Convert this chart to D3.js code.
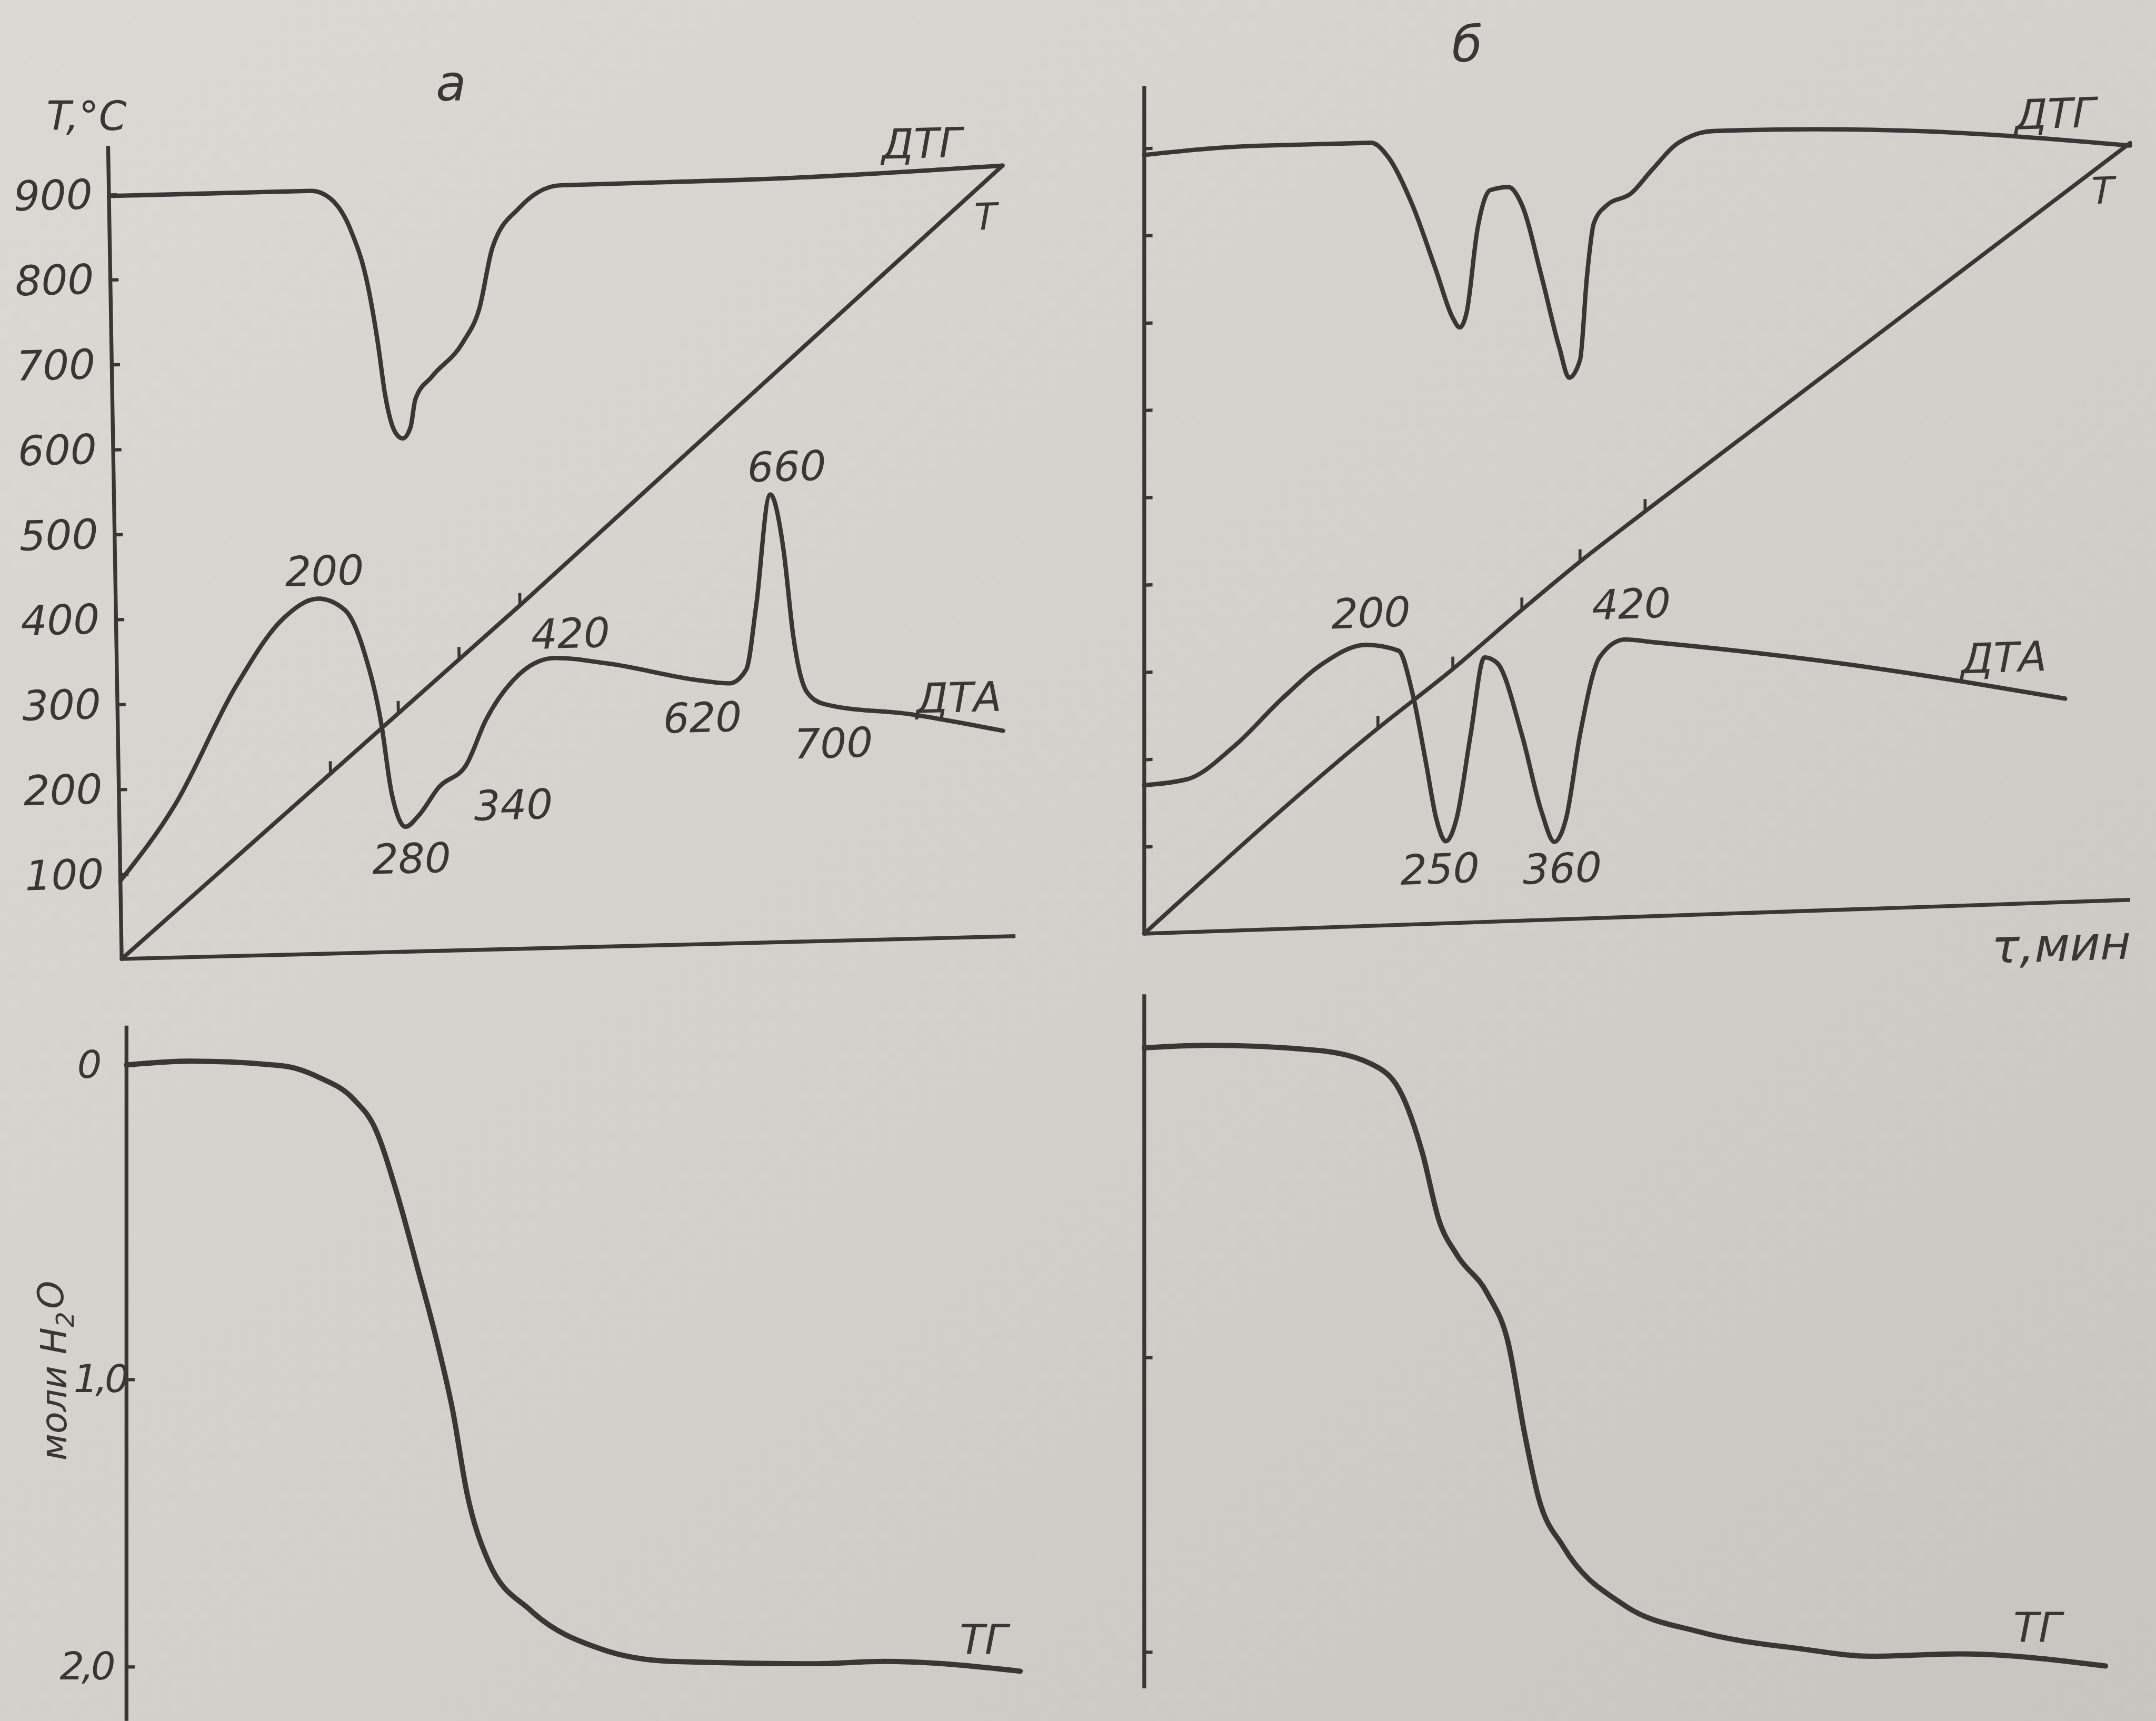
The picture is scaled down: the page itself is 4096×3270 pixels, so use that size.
<!DOCTYPE html>
<html><head><meta charset="utf-8">
<script src="https://cdn.jsdelivr.net/npm/d3@7"></script>
<style>html,body{margin:0;padding:0;background:#d6d3ce;overflow:hidden}</style>
</head><body>
<svg id="c" width="4096" height="3270"></svg>
<script>
// ================= DATA =================
// Temperature axis ticks (°C) and TG axis ticks (moles H2O)
const tempTicks = [100, 200, 300, 400, 500, 600, 700, 800, 900];
const molTicks = [0, 1, 2];
const molTickLabels = ["0", "1,0", "2,0"];

// ---- panel а (top): time (arb. units 0..100) vs value (°C scale) ----
const dtgA_t = [0, 22.6, 24.8, 27.0, 28.8, 29.8, 30.5, 31.6, 32.4, 33.3, 33.9, 35.8, 39.3, 41.2, 42.8, 45.9, 50.5, 70.9, 100];
const dtgA_v = [898, 898, 888, 850, 784, 717, 657, 611, 604, 617, 650, 676, 715, 754, 826, 872, 897, 898, 907];

const dtaA_t = [0, 6.3, 13.3, 18.7, 22.6, 25.6, 27.7, 29.5, 30.5, 32.0, 33.5, 35.8, 38.9, 41.2, 44.3, 48.9, 54.9, 65.4, 68.5, 70.4, 71.6, 73.4, 74.8, 75.7, 77.1, 79.0, 88.8, 99.0];
const dtaA_v = [92, 180.6, 317.6, 395.6, 418, 404, 353.6, 267, 187, 147, 160, 192.6, 218, 270.6, 316, 341, 333, 310, 306, 322, 395, 527, 460, 361, 294, 279, 264, 242];

const tempA_t = [0, 45.2, 100];
const tempA_v = [0, 404, 907];
const tempA_marks = [23.7, 31.4, 38.3, 45.2];

// ---- panel а (bottom): TG, moles H2O lost ----
const tgA_t = [0, 7.2, 17.5, 21.5, 25.4, 27.8, 30.2, 32.6, 34.9, 36.5, 38.1, 40.5, 45.2, 53.1, 61.0, 76.9, 84.8, 100];
const tgA_v = [0, -0.012, 0.003, 0.039, 0.109, 0.201, 0.403, 0.651, 0.899, 1.110, 1.398, 1.635, 1.805, 1.940, 1.983, 1.991, 1.983, 2.017];

// ---- panel б (top) ----
const dtgB_t = [0, 11.2, 23.0, 24.8, 27.2, 29.6, 31.3, 32.0, 32.7, 33.8, 35.1, 36.9, 38.3, 40.3, 42.1, 43.1, 44.2, 44.9, 45.6, 46.9, 49.4, 51.5, 54.2, 57.7, 77.1, 100];
const dtgB_v = [892, 898, 897, 879, 824, 748, 693, 682, 699, 794, 838, 841, 820, 737, 655, 620, 640, 735, 796, 816, 829, 855, 885, 897, 890, 864];

const dtaB_t = [0, 4.3, 9.1, 14.0, 18.2, 22.3, 25.8, 27.2, 28.6, 29.6, 30.6, 31.7, 33.1, 34.5, 35.8, 38.3, 40.3, 41.6, 42.8, 44.2, 46.2, 48.7, 51.5, 70.2, 93.4];
const dtaB_v = [170, 175, 211, 264, 303, 322, 314, 265, 183, 121, 94, 120.5, 215, 303, 296, 213, 124, 89, 116, 211, 299, 318, 314, 283, 233];

const tempB_t = [0, 23.7, 31.3, 38.3, 44.2, 50.8, 100];
const tempB_v = [0, 226, 291, 356, 409, 464, 867];
const tempB_marks = [23.7, 31.3, 38.3, 44.2, 50.8];

// ---- panel б (bottom): TG ----
const tgB_t = [0, 6.4, 17.5, 23.7, 26.1, 28.2, 29.9, 31.7, 34.8, 36.9, 38.6, 40.0, 42.5, 48.7, 56.3, 66.7, 73.7, 82.7, 97.5];
const tgB_v = [0.005, -0.003, 0.013, 0.068, 0.154, 0.342, 0.561, 0.671, 0.796, 0.953, 1.264, 1.479, 1.644, 1.843, 1.933, 1.991, 2.016, 2.008, 2.049];

// ---- annotations: [text, time, value] ----
const notesA = [["200", 23.4, 451], ["280", 32.6, 110], ["340", 44.1, 170], ["420", 50.8, 370], ["620", 65.4, 267], ["660", 75.3, 560], ["700", 80.0, 233], ["ДТА", 94.1, 283], ["ДТГ", 91.0, 936], ["T", 98.0, 848]];
const notesB = [["200", 23.0, 359], ["420", 49.4, 359], ["250", 30.0, 63], ["360", 42.4, 59], ["ДТА", 87.2, 283], ["ДТГ", 92.4, 904], ["T", 97.2, 814]];
const notesTG_A = [["ТГ", 95.9, 1.906]];
const notesTG_B = [["ТГ", 90.6, 1.917]];

// ================= DRAWING =================
const k = 4096 / 1568;
const INK = "#383736";
const FONT = "'DejaVu Sans', sans-serif";
const svg = d3.select("#c");
const defs = svg.append("defs");
const grad = defs.append("linearGradient").attr("id", "paper")
  .attr("x1", "0").attr("y1", "0").attr("x2", "1").attr("y2", "1");
grad.append("stop").attr("offset", "0").attr("stop-color", "#dcd9d4");
grad.append("stop").attr("offset", "0.55").attr("stop-color", "#d3d0cb");
grad.append("stop").attr("offset", "1").attr("stop-color", "#c8c5c0");
svg.append("rect").attr("width", 4096).attr("height", 3270).attr("fill", "url(#paper)");

const root = svg.append("g").attr("transform", `scale(${k})`);
const zip = (a, b) => a.map((v, i) => [v, b[i]]);
const mkLine = (x, y) => d3.line().x(d => x(d[0])).y(d => y(d[1])).curve(d3.curveMonotoneX);

function curve(g, x, y, ts, vs, w) {
  g.append("path").datum(zip(ts, vs)).attr("d", mkLine(x, y))
    .attr("fill", "none").attr("stroke", INK).attr("stroke-width", w || 3.2)
    .attr("stroke-linejoin", "round").attr("stroke-linecap", "round");
}
function notes(g, x, y, arr, size) {
  g.selectAll(null).data(arr).enter().append("text")
    .attr("x", d => x(d[1])).attr("y", d => y(d[2])).attr("dy", "0.36em")
    .attr("text-anchor", "middle").attr("font-family", FONT).attr("font-style", "italic")
    .attr("font-size", d => d[0] === "T" ? 27 : (size || 30)).attr("fill", INK)
    .text(d => d[0]);
}
function tempMarks(g, x, y, ts, vs, marks) {
  const interp = d3.scaleLinear().domain(ts).range(vs);
  g.selectAll(null).data(marks).enter().append("line")
    .attr("x1", d => x(d)).attr("x2", d => x(d))
    .attr("y1", d => y(interp(d))).attr("y2", d => y(interp(d)) - 9)
    .attr("stroke", INK).attr("stroke-width", 2.2);
}
function styleAxis(ax, showText, size) {
  ax.attr("font-family", FONT).attr("font-size", size || 30).attr("font-style", "italic");
  ax.select(".domain").remove();
  ax.selectAll(".tick line").attr("stroke", INK).attr("stroke-width", 2.4);
  ax.selectAll(".tick text").attr("fill", INK);
  if (!showText) ax.selectAll(".tick text").remove();
}

// ---------- panel а, top ----------
const gA = root.append("g").attr("transform", "matrix(1,-0.0255,0.0167,1,88.5,697.5)");
const xA = d3.scaleLinear().domain([0, 100]).range([0, 650]);
const yA = d3.scaleLinear().domain([0, 957]).range([0, -591.4]);
gA.append("line").attr("x1", xA(0)).attr("x2", xA(0)).attr("y1", yA(0)).attr("y2", yA(957))
  .attr("stroke", INK).attr("stroke-width", 2.8);
gA.append("line").attr("x1", xA(0)).attr("x2", xA(100)).attr("y1", yA(0)).attr("y2", yA(0))
  .attr("stroke", INK).attr("stroke-width", 2.8);
const axA = gA.append("g").call(d3.axisLeft(yA).tickValues(tempTicks).tickSizeInner(-6).tickSizeOuter(0).tickPadding(12).tickFormat(d3.format("d")));
styleAxis(axA, true);
curve(gA, xA, yA, dtgA_t, dtgA_v);
curve(gA, xA, yA, dtaA_t, dtaA_v);
curve(gA, xA, yA, tempA_t, tempA_v, 3.0);
tempMarks(gA, xA, yA, tempA_t, tempA_v, tempA_marks);
notes(gA, xA, yA, notesA);

// ---------- panel а, bottom ----------
const gAb = root.append("g");
const xAb = d3.scaleLinear().domain([0, 100]).range([92, 742]);
const yAb = d3.scaleLinear().domain([0, 1, 2]).range([774.6, 1003, 1212]);
gAb.append("line").attr("x1", xAb(0)).attr("x2", xAb(0)).attr("y1", yAb(-0.125)).attr("y2", yAb(2.19))
  .attr("stroke", INK).attr("stroke-width", 2.8);
const axAb = gAb.append("g").attr("transform", `translate(${xAb(0)},0)`)
  .call(d3.axisLeft(yAb).tickValues(molTicks).tickSizeInner(-6).tickSizeOuter(0).tickPadding(10).tickFormat((d, i) => molTickLabels[i]));
styleAxis(axAb, true, 28);
const molLabelShift = [-10, 10, 0];
axAb.selectAll(".tick text").attr("dx", (d, i) => molLabelShift[i]).attr("letter-spacing", -2);
curve(gAb, xAb, yAb, tgA_t, tgA_v, 3.8);
notes(gAb, xAb, yAb, notesTG_A);
gAb.append("text").attr("transform", "translate(39,997) rotate(-90)")
  .attr("text-anchor", "middle").attr("dy", "0.36em").attr("font-family", FONT).attr("font-style", "italic")
  .attr("font-size", 26).attr("fill", INK)
  .call(t => { t.append("tspan").text("моли H"); t.append("tspan").attr("font-size", 18).attr("dy", "0.3em").text("2");
               t.append("tspan").attr("dy", "-0.3em").attr("dx", 2).text("O"); });

// ---------- panel б, top ----------
const gB = root.append("g").attr("transform", "matrix(1,-0.0343,0,1,832.2,679.1)");
const xB = d3.scaleLinear().domain([0, 100]).range([0, 717]);
const yB = d3.scaleLinear().domain([0, 971]).range([0, -616.6]);
gB.append("line").attr("x1", xB(0)).attr("x2", xB(0)).attr("y1", yB(0)).attr("y2", yB(971))
  .attr("stroke", INK).attr("stroke-width", 2.8);
gB.append("line").attr("x1", xB(0)).attr("x2", xB(100)).attr("y1", yB(0)).attr("y2", yB(0))
  .attr("stroke", INK).attr("stroke-width", 2.8);
const axB = gB.append("g").call(d3.axisLeft(yB).tickValues(tempTicks).tickSizeInner(-6).tickSizeOuter(0));
styleAxis(axB, false);
curve(gB, xB, yB, dtgB_t, dtgB_v);
curve(gB, xB, yB, dtaB_t, dtaB_v);
curve(gB, xB, yB, tempB_t, tempB_v, 3.0);
tempMarks(gB, xB, yB, tempB_t, tempB_v, tempB_marks);
notes(gB, xB, yB, notesB);
gB.append("text").attr("x", xB(93.0)).attr("y", yB(-48)).attr("dy", "0.36em").attr("text-anchor", "middle")
  .attr("font-family", FONT).attr("font-style", "italic").attr("font-size", 34).attr("fill", INK).text("τ,мин");

// ---------- panel б, bottom ----------
const gBb = root.append("g");
const xBb = d3.scaleLinear().domain([0, 100]).range([832.2, 1549.2]);
const yBb = d3.scaleLinear().domain([0, 1, 2]).range([761, 987, 1201.3]);
gBb.append("line").attr("x1", xBb(0)).attr("x2", xBb(0)).attr("y1", yBb(-0.167)).attr("y2", yBb(2.125))
  .attr("stroke", INK).attr("stroke-width", 2.8);
const axBb = gBb.append("g").attr("transform", `translate(${xBb(0)},0)`)
  .call(d3.axisLeft(yBb).tickValues(molTicks.slice(1)).tickSizeInner(-6).tickSizeOuter(0));
styleAxis(axBb, false);
curve(gBb, xBb, yBb, tgB_t, tgB_v, 3.8);
notes(gBb, xBb, yBb, notesTG_B);

// ---------- titles ----------
const title = (x, y, txt, size) => root.append("text").attr("x", x).attr("y", y).attr("dy", "0.36em")
  .attr("text-anchor", "middle").attr("font-family", FONT).attr("font-style", "italic")
  .attr("font-size", size).attr("fill", INK).text(txt);
title(63, 84, "T,°C", 29);
title(328, 60, "а", 36);
title(1067, 32, "б", 36);
</script>
</body></html>
